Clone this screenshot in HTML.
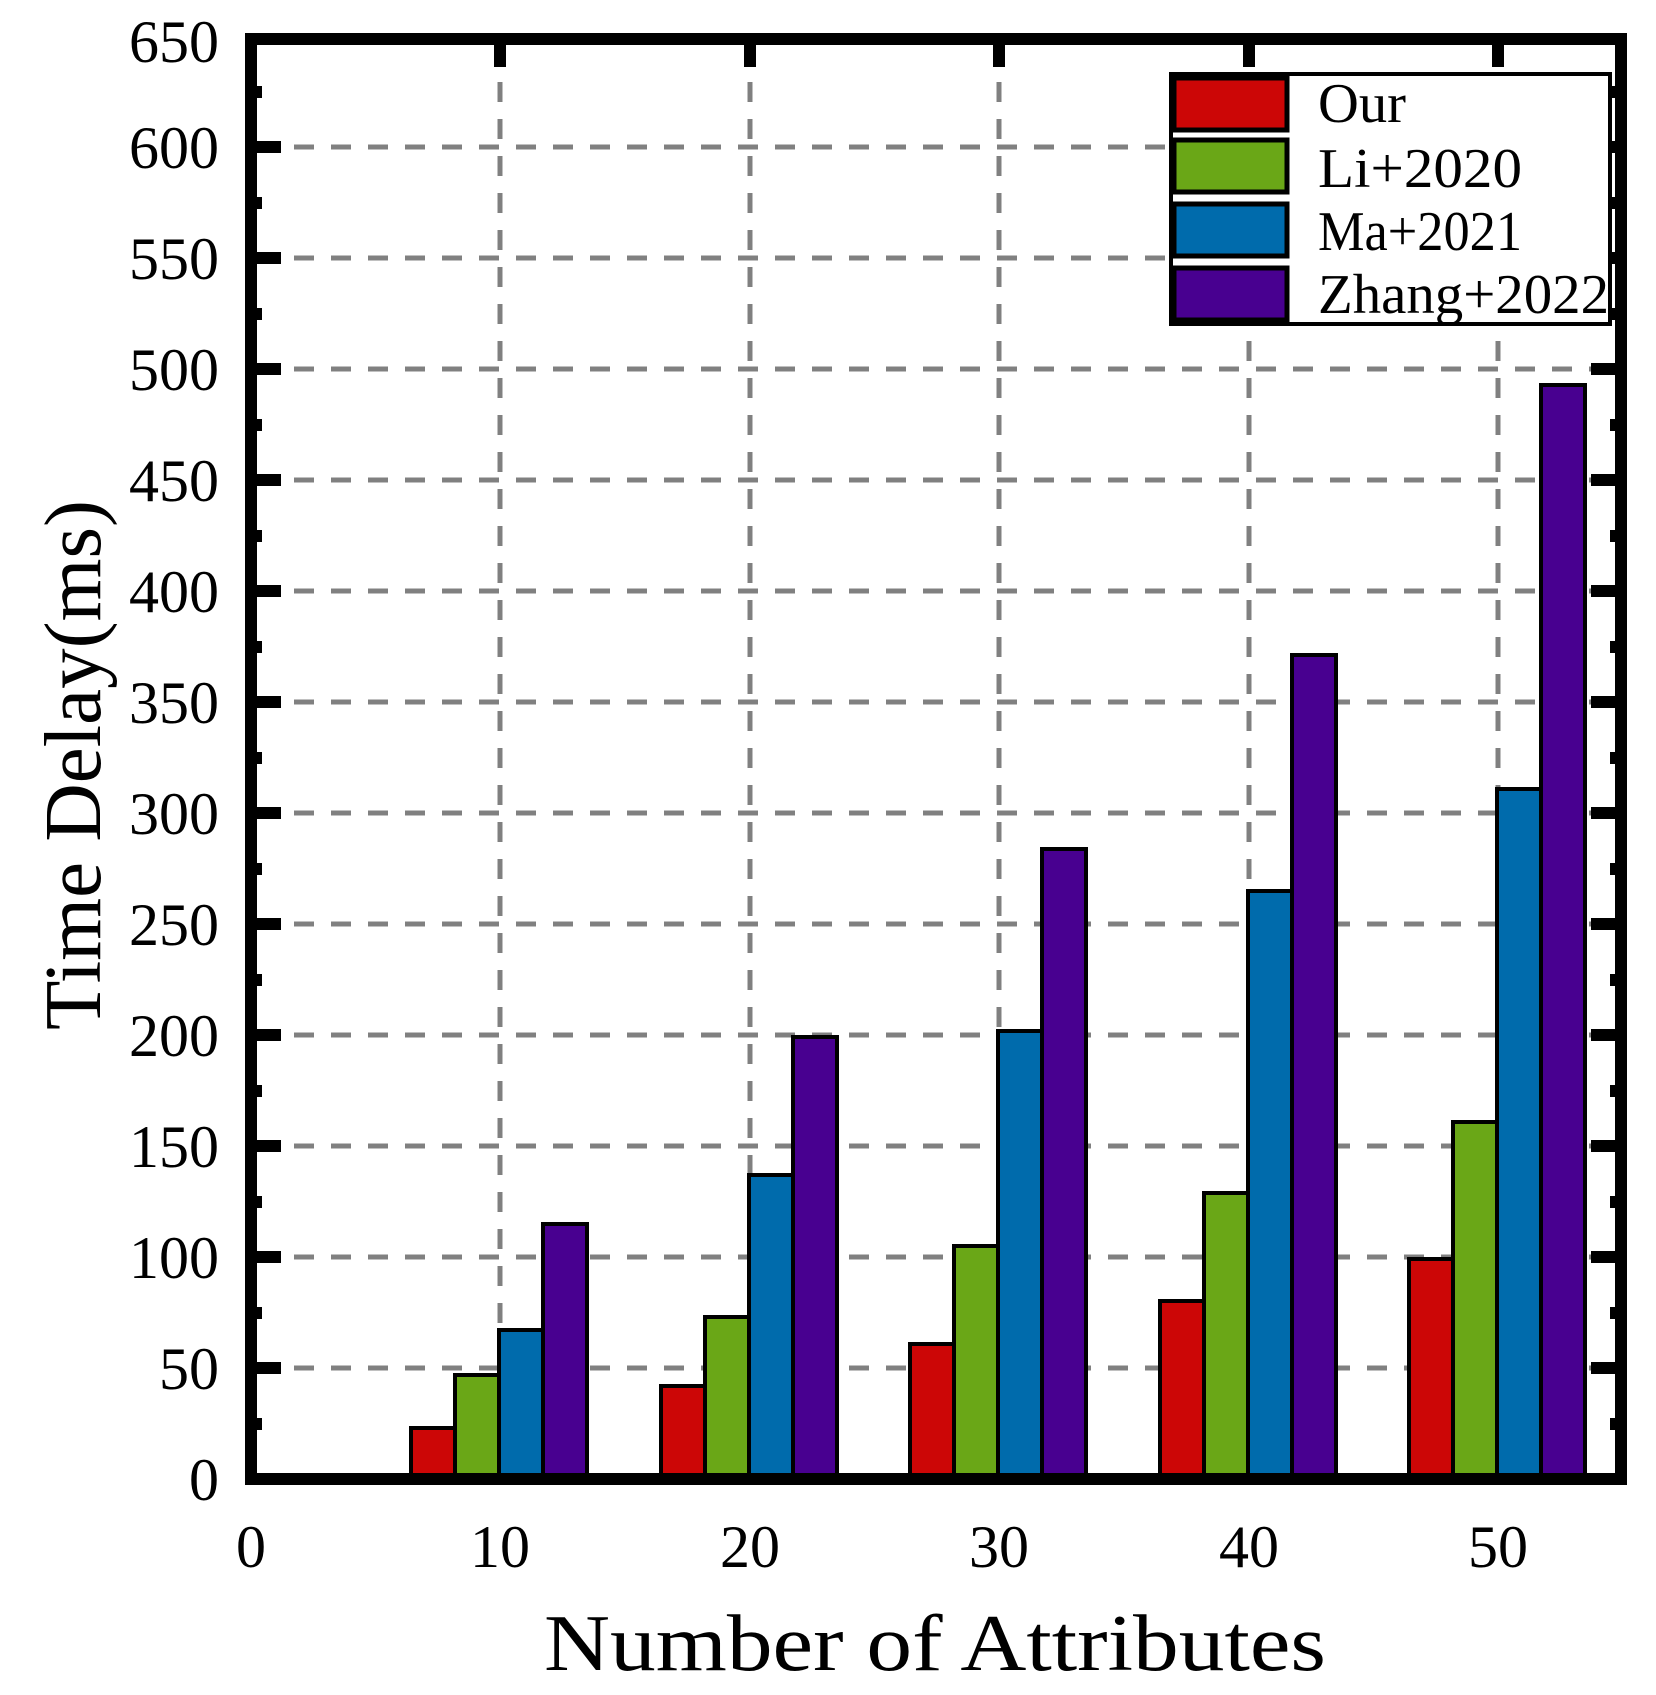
<!DOCTYPE html>
<html><head><meta charset="utf-8"><style>html,body{margin:0;padding:0;background:#fff}svg{display:block}</style></head>
<body>
<svg width="1656" height="1695" viewBox="0 0 1656 1695" xmlns="http://www.w3.org/2000/svg" font-family="Liberation Serif, serif">
<rect width="1656" height="1695" fill="#fff"/>
<g stroke="#808080" stroke-width="5" stroke-dasharray="20,17">
<line x1="257" y1="1368" x2="1615" y2="1368"/>
<line x1="257" y1="1257" x2="1615" y2="1257"/>
<line x1="257" y1="1146" x2="1615" y2="1146"/>
<line x1="257" y1="1035" x2="1615" y2="1035"/>
<line x1="257" y1="924" x2="1615" y2="924"/>
<line x1="257" y1="813" x2="1615" y2="813"/>
<line x1="257" y1="702" x2="1615" y2="702"/>
<line x1="257" y1="591" x2="1615" y2="591"/>
<line x1="257" y1="480" x2="1615" y2="480"/>
<line x1="257" y1="369" x2="1615" y2="369"/>
<line x1="257" y1="258" x2="1615" y2="258"/>
<line x1="257" y1="147" x2="1615" y2="147"/>
<line x1="500" y1="45" x2="500" y2="1473"/>
<line x1="750" y1="45" x2="750" y2="1473"/>
<line x1="999" y1="45" x2="999" y2="1473"/>
<line x1="1249" y1="45" x2="1249" y2="1473"/>
<line x1="1498" y1="45" x2="1498" y2="1473"/>
</g>
<g stroke="#000" stroke-width="4">
<!-- x=10 -->
<rect x="411" y="1428" width="44" height="51" fill="#cc0606"/>
<rect x="455" y="1375" width="44" height="104" fill="#6aa717"/>
<rect x="499" y="1330" width="44" height="149" fill="#006bac"/>
<rect x="543" y="1224" width="44" height="255" fill="#480090"/>
<!-- 20 -->
<rect x="661" y="1386" width="44" height="93" fill="#cc0606"/>
<rect x="705" y="1317" width="44" height="162" fill="#6aa717"/>
<rect x="749" y="1175" width="44" height="304" fill="#006bac"/>
<rect x="793" y="1037" width="44" height="442" fill="#480090"/>
<!-- 30 -->
<rect x="910" y="1344" width="44" height="135" fill="#cc0606"/>
<rect x="954" y="1246" width="44" height="233" fill="#6aa717"/>
<rect x="998" y="1031" width="44" height="448" fill="#006bac"/>
<rect x="1042" y="849" width="44" height="630" fill="#480090"/>
<!-- 40 -->
<rect x="1160" y="1301" width="44" height="178" fill="#cc0606"/>
<rect x="1204" y="1193" width="44" height="286" fill="#6aa717"/>
<rect x="1248" y="891" width="44" height="588" fill="#006bac"/>
<rect x="1292" y="655" width="44" height="824" fill="#480090"/>
<!-- 50 -->
<rect x="1409" y="1259" width="44" height="220" fill="#cc0606"/>
<rect x="1453" y="1122" width="44" height="357" fill="#6aa717"/>
<rect x="1497" y="789" width="44" height="690" fill="#006bac"/>
<rect x="1541" y="385" width="44" height="1094" fill="#480090"/>
</g>
<!-- ticks -->
<g stroke="#000" stroke-width="12">
<path d="M257 1368h24M257 1257h24M257 1146h24M257 1035h24M257 924h24M257 813h24M257 702h24M257 591h24M257 480h24M257 369h24M257 258h24M257 147h24"/>
<path d="M1615 1368h-24M1615 1257h-24M1615 1146h-24M1615 1035h-24M1615 924h-24M1615 813h-24M1615 702h-24M1615 591h-24M1615 480h-24M1615 369h-24M1615 258h-24M1615 147h-24"/>
<path d="M257 1424h5M257 1313h5M257 1202h5M257 1091h5M257 980h5M257 869h5M257 758h5M257 647h5M257 536h5M257 425h5M257 314h5M257 203h5M257 92h5"/>
<path d="M1615 1424h-5M1615 1313h-5M1615 1202h-5M1615 1091h-5M1615 980h-5M1615 869h-5M1615 758h-5M1615 647h-5M1615 536h-5M1615 425h-5M1615 314h-5M1615 203h-5M1615 92h-5"/>
<path d="M500 45v22M750 45v22M999 45v22M1249 45v22M1498 45v22"/>
</g>
<rect x="251" y="39" width="1370" height="1440" fill="none" stroke="#000" stroke-width="12"/>
<!-- tick labels -->
<g font-size="60" text-anchor="end" fill="#000">
<text x="219" y="1500">0</text>
<text x="219" y="1389">50</text>
<text x="219" y="1278">100</text>
<text x="219" y="1167">150</text>
<text x="219" y="1056">200</text>
<text x="219" y="945">250</text>
<text x="219" y="834">300</text>
<text x="219" y="723">350</text>
<text x="219" y="612">400</text>
<text x="219" y="501">450</text>
<text x="219" y="390">500</text>
<text x="219" y="279">550</text>
<text x="219" y="168">600</text>
<text x="219" y="62">650</text>
</g>
<g font-size="60" text-anchor="middle" fill="#000">
<text x="251" y="1567">0</text>
<text x="500" y="1567">10</text>
<text x="750" y="1567">20</text>
<text x="999" y="1567">30</text>
<text x="1249" y="1567">40</text>
<text x="1498" y="1567">50</text>
</g>
<text x="544" y="1670" font-size="80" textLength="782" lengthAdjust="spacingAndGlyphs">Number of Attributes</text>
<text transform="translate(100,1030) rotate(-90)" font-size="80" textLength="530" lengthAdjust="spacingAndGlyphs">Time Delay(ms)</text>
<!-- legend -->
<rect x="1171" y="74" width="439" height="250" fill="#fff" stroke="#000" stroke-width="4"/>
<g stroke="#000" stroke-width="5">
<rect x="1174" y="78" width="113" height="52" fill="#cc0606"/>
<rect x="1174" y="140" width="113" height="52" fill="#6aa717"/>
<rect x="1174" y="204" width="113" height="52" fill="#006bac"/>
<rect x="1174" y="268" width="113" height="52" fill="#480090"/>
</g>
<g font-size="56" fill="#000">
<text x="1318" y="122" textLength="88" lengthAdjust="spacingAndGlyphs">Our</text>
<text x="1318" y="187" textLength="204" lengthAdjust="spacingAndGlyphs">Li+2020</text>
<text x="1318" y="250" textLength="204" lengthAdjust="spacingAndGlyphs">Ma+2021</text>
<text x="1318" y="313" textLength="291" lengthAdjust="spacingAndGlyphs">Zhang+2022</text>
</g>
</svg>
</body></html>
